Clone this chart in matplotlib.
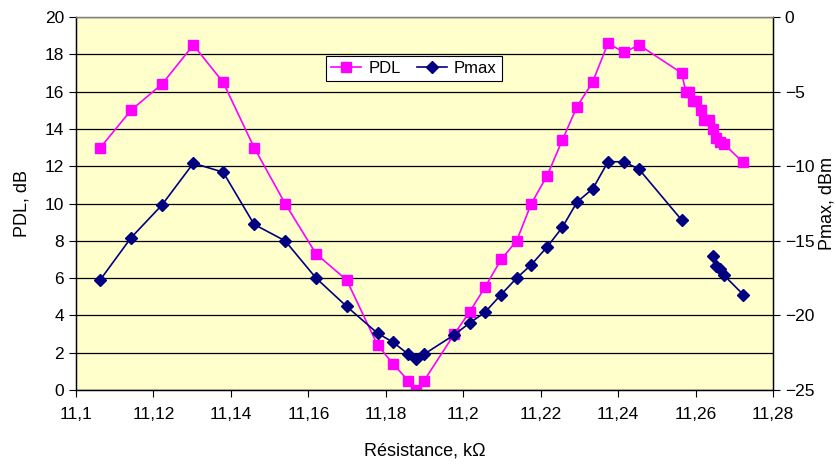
import matplotlib
matplotlib.use("Agg")
import matplotlib.pyplot as plt
from matplotlib.ticker import FuncFormatter, MultipleLocator
import numpy as np

plt.rcParams['font.family'] = ['Liberation Sans', 'DejaVu Sans']

# Data
pdl_x = [11.1063, 11.1142, 11.1222, 11.1303, 11.1380, 11.1460, 11.1540, 11.1620,
         11.1699, 11.1779, 11.1819, 11.1858, 11.1878, 11.1899, 11.1977, 11.2017,
         11.2056, 11.2098, 11.2138, 11.2176, 11.2217, 11.2256, 11.2294, 11.2334,
         11.2374, 11.2415, 11.2454, 11.2564, 11.2575, 11.2583, 11.2594, 11.2602,
         11.2613, 11.2623, 11.2635, 11.2645, 11.2652, 11.2662, 11.2673, 11.2723]
pdl_y = [13.0, 15.0, 16.4, 18.5, 16.5, 13.0, 10.0, 7.3,
         5.9, 2.4, 1.4, 0.5, 0.0, 0.5, 3.0, 4.2,
         5.5, 7.0, 8.0, 10.0, 11.5, 13.4, 15.2, 16.5,
         18.6, 18.1, 18.5, 17.0, 16.0, 16.0, 15.5, 15.5,
         15.0, 14.5, 14.5, 14.0, 13.5, 13.3, 13.2, 12.2]

pmax_x = [11.1063, 11.1142, 11.1222, 11.1303, 11.1380, 11.1460, 11.1540, 11.1620,
          11.1699, 11.1779, 11.1819, 11.1858, 11.1878, 11.1899, 11.1977, 11.2017,
          11.2056, 11.2098, 11.2138, 11.2176, 11.2217, 11.2256, 11.2294, 11.2335,
          11.2374, 11.2415, 11.2454, 11.2564, 11.2600,
          11.2645, 11.2654, 11.2664, 11.2673, 11.2723]
pmax_y = [-17.6, -14.8, -12.6, -9.8, -10.4, -13.9, -15.0, -17.5,
          -19.4, -21.2, -21.8, -22.6, -22.9, -22.6, -21.3, -20.5,
          -19.8, -18.6, -17.5, -16.6, -15.4, -14.1, -12.4, -11.5,
          -9.7, -9.7, -10.2, -13.6, np.nan,
          -16.0, -16.7, -16.9, -17.3, -18.6]

x_ticks = [11.1, 11.12, 11.14, 11.16, 11.18, 11.2, 11.22, 11.24, 11.26, 11.28]

fig = plt.figure(figsize=(8.37, 4.65), dpi=100)
ax = fig.add_axes([0.0908, 0.1613, 0.8327, 0.8021])
ax.set_facecolor('#FFFFCC')
ax2 = ax.twinx()

def comma(v, pos):
    s = ('%g' % round(v, 4))
    return s.replace('.', ',')

ax.set_xlim(11.1, 11.28)
ax.set_ylim(0, 20)
ax.set_xticks(x_ticks)
ax.xaxis.set_major_formatter(FuncFormatter(comma))
ax.yaxis.set_major_locator(MultipleLocator(2))
ax.grid(axis='y', color='black', linewidth=0.9)
ax.set_axisbelow(True)

ax2.set_ylim(-25, 0)
ax2.yaxis.set_major_locator(MultipleLocator(5))

l1, = ax.plot(pdl_x, pdl_y, color='#FF00FF', marker='s', markersize=6.5,
              linewidth=1.2, label='PDL', zorder=3)
l2, = ax2.plot(pmax_x, pmax_y, color='#000080', marker='D', markersize=6.5,
               linewidth=1.2, label='Pmax', zorder=3)

for a in (ax, ax2):
    a.tick_params(labelsize=12.5, direction='out', length=5, width=0.8)
    for s in a.spines.values():
        s.set_linewidth(0.9)
ax.spines['top'].set_color('#808080')
ax.tick_params(axis='x', pad=7)
ax2.spines['top'].set_color('#808080')

ax.set_xlabel('Résistance, kΩ', fontsize=13, labelpad=15)
ax.set_ylabel('PDL, dB', fontsize=13, labelpad=10)
ax2.set_ylabel('Pmax, dBm', fontsize=13, labelpad=3)

leg = ax.legend(handles=[l1, l2], loc='center', bbox_to_anchor=(0.485, 0.862),
                ncol=2, fontsize=12, frameon=True, fancybox=False,
                edgecolor='black', framealpha=1, borderpad=0.3,
                handlelength=1.8, columnspacing=1.0, handletextpad=0.4)
leg.get_frame().set_linewidth(0.8)

fig.savefig('out.png', dpi=100, facecolor='white')
